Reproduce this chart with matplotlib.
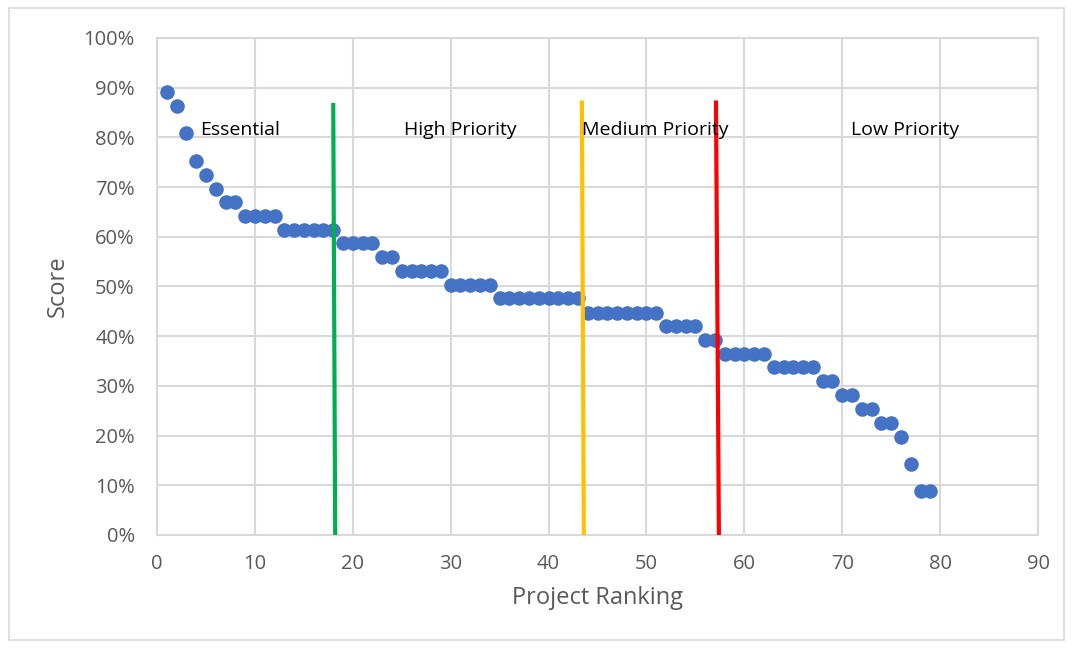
import matplotlib.pyplot as plt
from matplotlib.patches import Rectangle
from matplotlib.ticker import PercentFormatter

# project ranking vs score
ranking = list(range(1, 80))
scores = (
    [0.891, 0.863, 0.809, 0.752, 0.724, 0.696]
    + [0.670] * 2
    + [0.642] * 4
    + [0.614] * 6
    + [0.587] * 4
    + [0.559] * 2
    + [0.531] * 5
    + [0.503] * 5
    + [0.476] * 9
    + [0.447] * 8
    + [0.421] * 4
    + [0.392] * 2
    + [0.364] * 5
    + [0.337] * 5
    + [0.309] * 2
    + [0.281] * 2
    + [0.254] * 2
    + [0.226] * 2
    + [0.198, 0.143, 0.088, 0.088]
)

# priority cut-off lines (x top, x bottom, y top)
cut_names = ["Essential", "High", "Medium"]
cut_x_top = [18.0, 43.4, 57.1]
cut_x_bottom = [18.2, 43.6, 57.4]
cut_y_top = [0.865, 0.870, 0.870]
cut_colors = ["#00B050", "#FFC000", "#FF0000"]

band_labels = ["Essential", "High Priority", "Medium Priority", "Low Priority"]
band_label_x = [4.4, 25.2, 43.4, 70.9]
band_label_y = [0.815, 0.815, 0.815, 0.815]

GRAY = "#595959"
plt.rcParams["font.family"] = ["Open Sans", "DejaVu Sans"]

fig = plt.figure(figsize=(10.72, 6.48), dpi=100)
ax = fig.add_axes([0.1465, 0.1744, 0.8218, 0.767])

ax.scatter(ranking, scores, s=110, color="#4472C4", zorder=3, linewidths=0)

for i in range(len(cut_names)):
    ax.plot(
        [cut_x_top[i], cut_x_bottom[i]],
        [cut_y_top[i], 0],
        color=cut_colors[i],
        linewidth=3,
        zorder=4,
    )

for i in range(len(band_labels)):
    ax.text(
        band_label_x[i],
        band_label_y[i],
        band_labels[i],
        fontsize=14,
        color="black",
        va="center",
        ha="left",
        zorder=5,
    )

ax.set_xlim(0, 90)
ax.set_ylim(0, 1.0)
ax.set_xticks(range(0, 91, 10))
ax.set_yticks([i / 10 for i in range(11)])
ax.yaxis.set_major_formatter(PercentFormatter(1.0, decimals=0))
ax.tick_params(length=0, labelsize=14.5, labelcolor=GRAY)
ax.tick_params(axis="x", pad=14)
ax.tick_params(axis="y", pad=16)

ax.grid(True, color="#D9D9D9", linewidth=1.5)
ax.set_axisbelow(True)
for side in ["top", "right", "left", "bottom"]:
    ax.spines[side].set_color("#D9D9D9")
    ax.spines[side].set_linewidth(1.5)

ax.set_xlabel("Project Ranking", fontsize=17, color=GRAY, labelpad=8)
ax.set_ylabel("Score", fontsize=17, color=GRAY, labelpad=10)

# chart area border
fig.patches.append(
    Rectangle(
        (0.008, 0.012),
        0.985,
        0.975,
        transform=fig.transFigure,
        fill=False,
        edgecolor="#D9D9D9",
        linewidth=1.2,
    )
)

plt.savefig("out.png", dpi=100)
